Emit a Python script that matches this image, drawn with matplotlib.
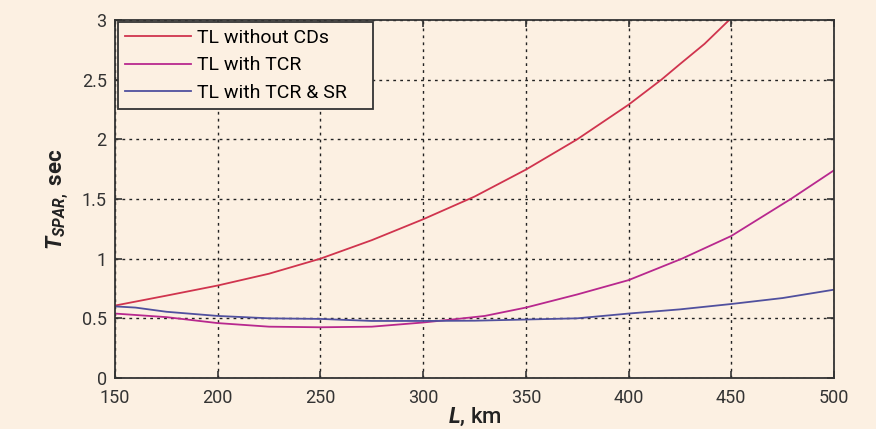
import numpy as np
import matplotlib.pyplot as plt

plt.rcParams['font.family'] = ['Roboto', 'DejaVu Sans']
plt.rcParams['mathtext.fontset'] = 'custom'
plt.rcParams['mathtext.it'] = 'Roboto:italic:bold'
plt.rcParams['mathtext.rm'] = 'Roboto:bold'

# values
L = [150, 175, 200, 225, 250, 275, 300, 325, 350, 375, 400, 416, 425, 437, 449]
t_no_cd = [0.607, 0.69, 0.775, 0.874, 1.0, 1.155, 1.33, 1.52, 1.746, 2.0, 2.29, 2.5, 2.63, 2.8, 3.0]

L_tcr = [150, 175, 200, 225, 250, 275, 300, 314, 330, 350, 375, 400, 426, 450, 479, 500]
t_tcr = [0.54, 0.51, 0.46, 0.43, 0.425, 0.43, 0.465, 0.49, 0.52, 0.59, 0.70, 0.82, 1.0, 1.19, 1.5, 1.74]

L_sr = [150, 160, 175, 200, 225, 250, 275, 300, 325, 350, 375, 400, 425, 450, 475, 500]
t_sr = [0.60, 0.59, 0.555, 0.52, 0.50, 0.495, 0.478, 0.478, 0.48, 0.49, 0.50, 0.54, 0.575, 0.62, 0.67, 0.74]

bg = '#fcf0e2'
fig = plt.figure(figsize=(8.76, 4.29), dpi=100, facecolor=bg)
ax = fig.add_axes([0.1313, 0.1189, 0.8207, 0.8345], facecolor=bg)

ax.plot(L, t_no_cd, color='#d0344e', lw=1.3, label='TL without CDs')
ax.plot(L_tcr, t_tcr, color='#b8288e', lw=1.3, label='TL with TCR')
ax.plot(L_sr, t_sr, color='#50509e', lw=1.3, label='TL with TCR & SR')

ax.set_xlim(150, 500)
ax.set_ylim(0, 3)
ax.set_xticks(np.arange(150, 501, 50))
ax.set_yticks([0, 0.5, 1, 1.5, 2, 2.5, 3])
ax.set_yticklabels(['0', '0.5', '1', '1.5', '2', '2.5', '3'])
ax.grid(True, color='#222222', linestyle=(0, (2, 3)), lw=1.0)
ax.tick_params(direction='in', length=5, labelsize=13, colors='#333333', width=1.2)
ax.tick_params(axis='x', pad=8)
ax.tick_params(axis='y', pad=6)
ax.tick_params(top=True, right=True, labeltop=False, labelright=False)
for s in ax.spines.values():
    s.set_color('#333333')
    s.set_linewidth(1.3)

ax.set_xlabel(r'$L$, km', fontsize=16, labelpad=-1, color='#222222', fontweight='medium')
ax.set_ylabel(r'$T_{SPAR,}$ sec', fontsize=16, labelpad=8, color='#222222', fontweight='bold')

# legend box stretched to the reference width
leg = ax.legend(loc='upper left', bbox_to_anchor=(0.004, 0.005, 0.355, 0.99), mode='expand',
                fontsize=14, frameon=True, fancybox=False, borderaxespad=0,
                handlelength=3.4, labelspacing=0.5, borderpad=0.35, handletextpad=0.3)
leg.get_frame().set_edgecolor('#333333')
leg.get_frame().set_facecolor(bg)
leg.get_frame().set_alpha(1)
leg.get_frame().set_linewidth(1.3)

fig.savefig('out.png', dpi=100, facecolor=bg)
